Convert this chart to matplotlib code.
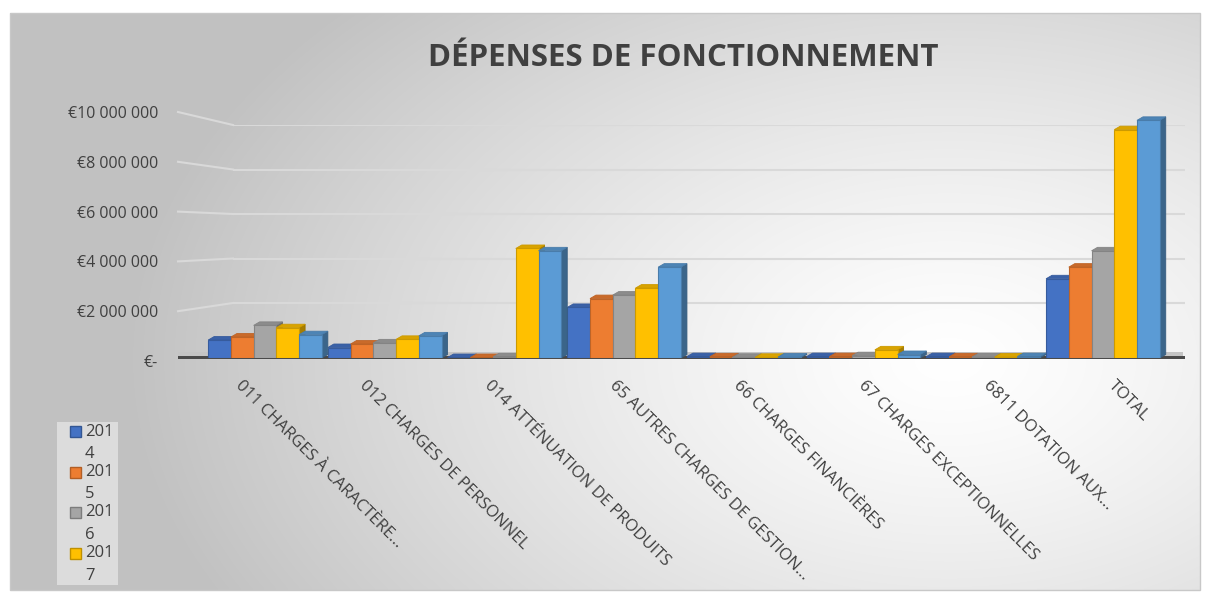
import numpy as np
import matplotlib
matplotlib.use("Agg")
import matplotlib.pyplot as plt
from matplotlib.patches import Polygon, Rectangle
from matplotlib.lines import Line2D
from matplotlib.colors import to_rgb
from matplotlib.ticker import FuncFormatter

categories = ["011 CHARGES À CARACTÈRE...", "012 CHARGES DE PERSONNEL",
              "014 ATTÉNUATION DE PRODUITS", "65 AUTRES CHARGES DE GESTION...",
              "66 CHARGES FINANCIÈRES", "67 CHARGES EXCEPTIONNELLES",
              "6811 DOTATION AUX...", "TOTAL"]
years = ["2014", "2015", "2016", "2017", "2018"]
v2014 = [770000, 450000, 20000, 2170000, 60000, 60000, 60000, 3400000]
v2015 = [900000, 600000, 20000, 2550000, 50000, 60000, 50000, 3900000]
v2016 = [1400000, 650000, 50000, 2700000, 30000, 100000, 40000, 4600000]
v2017 = [1300000, 800000, 4700000, 3000000, 30000, 350000, 40000, 9800000]
v2018 = [1000000, 950000, 4600000, 3900000, 40000, 150000, 60000, 10200000]
series = [v2014, v2015, v2016, v2017, v2018]
colors = ["#4472C4", "#ED7D31", "#A5A5A5", "#FFC000", "#5B9BD5"]
yticks = [0, 2000000, 4000000, 6000000, 8000000, 10000000]

plt.rcParams['font.family'] = ['Open Sans', 'DejaVu Sans']

W, H = 1212, 599
fig = plt.figure(figsize=(W / 100, H / 100), dpi=100)
fig.patch.set_facecolor("white")

def box(l, r, bottom_px, top_px):
    return [l / W, (H - bottom_px) / H, (r - l) / W, (bottom_px - top_px) / H]

# background gradient of chart area
bg = fig.add_axes([0, 0, 1, 1], zorder=0)
bg.set_xlim(0, W); bg.set_ylim(H, 0); bg.axis("off")
x0c, x1c, y0c, y1c = 10, 1200, 13, 590
gx = np.linspace(x0c, x1c, 400)
gy = np.linspace(y0c, y1c, 200)
GX, GY = np.meshgrid(gx, gy)
d = np.sqrt(((GX - 950) / 820.0) ** 2 + ((GY - 360) / 520.0) ** 2)
d = np.clip(d, 0, 1)
val = 1.0 - 0.24 * d ** 1.3
img = np.dstack([val, val, val])
bg.imshow(img, extent=[x0c, x1c, y1c, y0c], aspect="auto", interpolation="bilinear")
bg.add_patch(Rectangle((x0c, y0c), x1c - x0c, y1c - y0c, fill=False, ec="#c8c8c8", lw=1))

# value / category labels axis (front plane)
lab_ax = fig.add_axes(box(178, 1185, 361, 112), zorder=1)
lab_ax.patch.set_alpha(0)
lab_ax.set_ylim(0, 10000000)
lab_step, lab_first = 124.7, 243
lab_ax.set_xlim(-(lab_first - 178) / lab_step, (1185 - lab_first) / lab_step)
for s in lab_ax.spines.values():
    s.set_visible(False)
lab_ax.set_yticks(yticks)
lab_ax.yaxis.set_major_formatter(FuncFormatter(
    lambda v, p: "€-" if v == 0 else "€" + f"{int(v):,}".replace(",", " ")))
lab_ax.tick_params(axis="y", length=0, pad=14.4, labelsize=11.5, labelcolor="#404040")
xs = np.arange(len(categories))
lab_ax.set_xticks(xs)
lab_ax.set_xticklabels(categories, rotation=-45, ha="left", va="top", rotation_mode="anchor",
                       fontsize=12, color="#404040")
lab_ax.tick_params(axis="x", length=0, pad=12)

# back-wall gridlines
grid_ax = fig.add_axes(box(233, 1185, 347.5, 125), zorder=1)
grid_ax.patch.set_alpha(0)
grid_ax.set_ylim(0, 10000000)
grid_ax.axis("off")
for t in yticks[1:]:
    grid_ax.axhline(t, color="#d9d9d9", lw=1.5)
    yf = lab_ax.transData.transform((0, t))[1]
    yb = grid_ax.transData.transform((0, t))[1]
    xa = lab_ax.transAxes.transform((0, 0))[0]
    xb = grid_ax.transAxes.transform((0, 0))[0]
    fig.add_artist(Line2D([xa, xb], [yf, yb], transform=None, color="#d9d9d9", lw=1.5, zorder=1))

# main bars axes
px_left, px_right = 178, 1185
px_zero, px_top = 358, 116
ax = fig.add_axes(box(px_left, px_right, px_zero, px_top), zorder=2)
ax.patch.set_alpha(0)
unit = 119.7
first = 265
ax.set_xlim(-(first - px_left) / unit, (px_right - first) / unit)
ymax = 10000000 * (px_zero - px_top) / (px_zero - 125)
ax.set_ylim(0, ymax)
for s in ax.spines.values():
    s.set_visible(False)
ax.set_yticks([])
ax.set_xticks([])

# floor
ax.add_patch(Rectangle((ax.get_xlim()[0], 0), 8.4, 0.25e6, color="#c4c4c4", zorder=1.5, lw=0))
fl = Rectangle((0, -0.006), 1, 0.014, transform=ax.transAxes, color="#4a4a4a", zorder=1.6,
               lw=0, clip_on=False)
ax.add_patch(fl)

n = len(series)
bw = 0.19
dx = 0.05
dy = 0.15e6

def darker(c, f):
    r, g, b = to_rgb(c)
    return (r * f, g * f, b * f)

for i, (vals, col) in enumerate(zip(series, colors)):
    xpos = xs + (i - (n - 1) / 2) * bw
    ax.bar(xpos, vals, width=bw, color=col, edgecolor=darker(col, 0.8), lw=0.8,
           zorder=3 + i, label=years[i])
    for xc, h in zip(xpos, vals):
        xl, xr = xc - bw / 2, xc + bw / 2
        top = Polygon([(xl, h), (xr, h), (xr + dx, h + dy), (xl + dx, h + dy)], closed=True,
                      fc=darker(col, 0.85), ec=darker(col, 0.8), lw=0.6, zorder=2.9 + i)
        side = Polygon([(xr, 0), (xr + dx, dy), (xr + dx, h + dy), (xr, h)], closed=True,
                       fc=darker(col, 0.65), ec=darker(col, 0.6), lw=0.6, zorder=2.9 + i)
        ax.add_patch(side)
        ax.add_patch(top)

fig.text(683 / W, 1 - 58 / H, "DÉPENSES DE FONCTIONNEMENT", ha="center", va="center",
         fontsize=22.5, fontweight="bold", color="#404040")

# legend (first four series, labels wrapped as in the reference)
fig.add_artist(Rectangle((57 / W, 1 - 585 / H), 61 / W, 163 / H, transform=fig.transFigure,
                         fc="#e4e4e4", ec="none", alpha=0.8, zorder=3))
for i in range(4):
    ytop = 426 + i * 40.5
    fig.add_artist(Rectangle((70 / W, 1 - (ytop + 11) / H), 11 / W, 11 / H,
                             transform=fig.transFigure, fc=colors[i],
                             ec=darker(colors[i], 0.75), lw=1, zorder=4))
    fig.text(85 / W, 1 - (ytop + 5.5) / H, years[i][:3], ha="left", va="center",
             fontsize=12, color="#404040", zorder=4)
    fig.text(85 / W, 1 - (ytop + 28) / H, years[i][3:], ha="left", va="center",
             fontsize=12, color="#404040", zorder=4)

fig.savefig("out.png", dpi=100)
